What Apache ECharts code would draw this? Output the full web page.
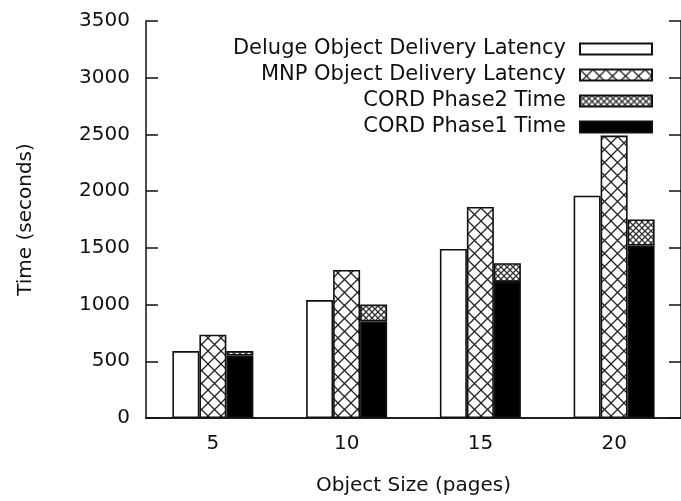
<!DOCTYPE html>
<html>
<head>
<meta charset="utf-8">
<script src="https://cdn.jsdelivr.net/npm/echarts@6/dist/echarts.min.js"></script>
<style>
  html, body { margin: 0; padding: 0; background: #fff; }
  #charts { width: 681px; height: 501px; }
</style>
</head>
<body>
<div id="charts"></div>
<script>
// object size (pages)
const categories = ['5', '10', '15', '20'];
// times in seconds
const delugeLatency = [590, 1040, 1490, 1960];
const mnpLatency = [735, 1305, 1860, 2490];
const cordPhase1 = [550, 850, 1200, 1520];
const cordPhase2 = [40, 150, 165, 230];
const legendNames = ['Deluge Object Delivery Latency', 'MNP Object Delivery Latency', 'CORD Phase2 Time', 'CORD Phase1 Time'];

const font = 'DejaVu Sans';
const ink = '#111';

// crosshatch fill like gnuplot's patterns
function makePattern(size, lw, color) {
    let c = document.createElement('canvas');
    c.width = size;
    c.height = size;
    let ctx = c.getContext('2d');
    ctx.fillStyle = '#fff';
    ctx.fillRect(0, 0, size, size);
    ctx.strokeStyle = color;
    ctx.lineWidth = lw;
    ctx.beginPath();
    ctx.moveTo(0, 0); ctx.lineTo(size, size);
    ctx.moveTo(size, 0); ctx.lineTo(0, size);
    ctx.stroke();
    return { image: c, repeat: 'repeat' };
}
const bigHatch = makePattern(13, 1.3, '#222');
const smallHatch = makePattern(6, 1.3, '#333');

const border = { borderColor: ink, borderWidth: 1.6 };
const plainNum = (v) => String(v);

var myChart = echarts.init(document.getElementById('charts'));
let option = {
    animation: false,
    backgroundColor: '#fff',
    textStyle: { fontFamily: font, color: ink },
    grid: { left: 146, top: 21, width: 540, height: 401 },
    legend: {
        data: legendNames,
        orient: 'vertical',
        align: 'right',
        right: 23,
        top: 33,
        itemWidth: 72,
        itemHeight: 11,
        itemGap: 4,
        icon: 'rect',
        textStyle: { fontFamily: font, fontSize: 21, lineHeight: 22, color: ink, padding: [0, 9, 0, 0] }
    },
    xAxis: [
        {
            type: 'category',
            data: categories,
            name: 'Object Size (pages)',
            nameLocation: 'middle',
            nameGap: 58,
            nameTextStyle: { fontFamily: font, fontSize: 20, color: ink },
            axisLine: { lineStyle: { color: ink, width: 1.5 } },
            axisTick: { inside: true, alignWithLabel: true, length: 12, lineStyle: { color: ink, width: 1.5 } },
            axisLabel: { fontFamily: font, fontSize: 20, color: ink, margin: 16 }
        },
        {
            type: 'category',
            data: categories,
            position: 'top',
            axisLine: { lineStyle: { color: ink, width: 1.5 } },
            axisTick: { inside: true, alignWithLabel: true, length: 12, lineStyle: { color: ink, width: 1.5 } },
            axisLabel: { show: false }
        }
    ],
    yAxis: [
        {
            type: 'value',
            min: 0,
            max: 3500,
            interval: 500,
            name: 'Time (seconds)',
            nameLocation: 'middle',
            nameGap: 110,
            nameTextStyle: { fontFamily: font, fontSize: 20, color: ink },
            axisLine: { show: true, lineStyle: { color: ink, width: 1.5 } },
            axisTick: { show: true, inside: true, length: 12, lineStyle: { color: ink, width: 1.5 } },
            axisLabel: { fontFamily: font, fontSize: 20, color: ink, margin: 16, formatter: plainNum },
            splitLine: { show: false }
        },
        {
            type: 'value',
            min: 0,
            max: 3500,
            interval: 500,
            position: 'right',
            axisLine: { show: true, lineStyle: { color: ink, width: 1.5 } },
            axisTick: { show: true, inside: true, length: 12, lineStyle: { color: ink, width: 1.5 } },
            axisLabel: { show: false },
            splitLine: { show: false }
        }
    ],
    series: [
        {
            name: legendNames[0],
            type: 'bar',
            barWidth: 27,
            barGap: '0%',
            data: delugeLatency,
            itemStyle: Object.assign({ color: '#fff' }, border)
        },
        {
            name: legendNames[1],
            type: 'bar',
            barWidth: 27,
            barGap: '0%',
            data: mnpLatency,
            itemStyle: Object.assign({ color: bigHatch }, border)
        },
        {
            name: legendNames[3],
            type: 'bar',
            stack: 'cord',
            barWidth: 27,
            barGap: '0%',
            data: cordPhase1,
            itemStyle: Object.assign({ color: '#000' }, border)
        },
        {
            name: legendNames[2],
            type: 'bar',
            stack: 'cord',
            barWidth: 27,
            barGap: '0%',
            data: cordPhase2,
            itemStyle: Object.assign({ color: smallHatch }, border)
        }
    ]
};
myChart.setOption(option);
</script>
</body>
</html>
